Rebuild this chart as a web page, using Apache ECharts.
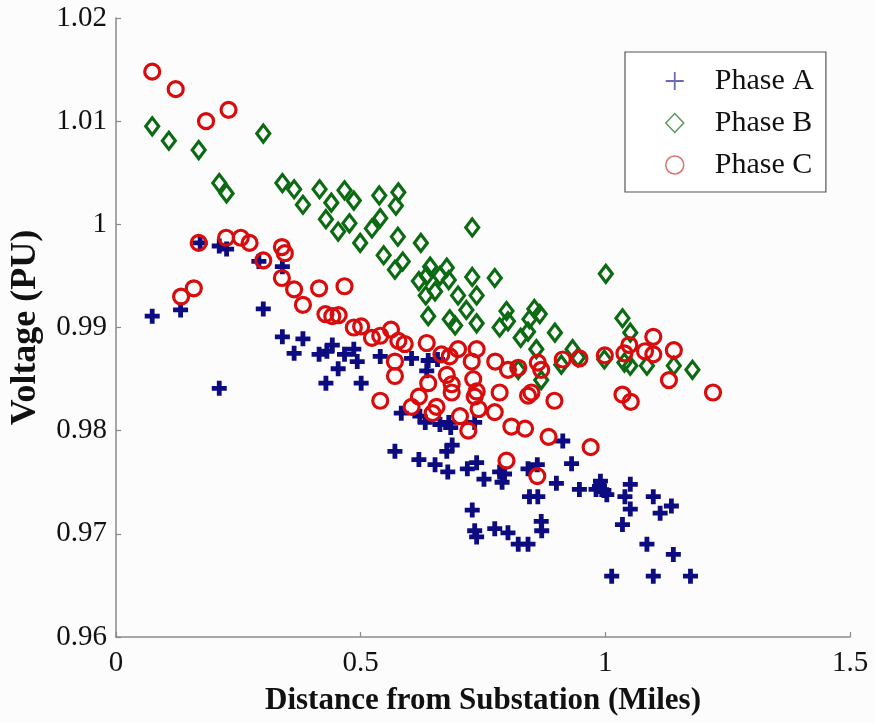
<!DOCTYPE html>
<html>
<head>
<meta charset="utf-8">
<script src="https://cdn.jsdelivr.net/npm/echarts@6/dist/echarts.min.js"></script>
<style>
  html, body { margin: 0; padding: 0; background: #fcfcfc; }
  #chart { width: 874px; height: 723px; }
</style>
</head>
<body>
<div id="chart"></div>
<script>
// Feeder node voltages by phase versus distance from substation
const phaseA = [
  [0.074, 0.9911], [0.132, 0.9917], [0.172, 0.9982], [0.211, 0.9979], [0.226, 0.9976],
  [0.292, 0.9964], [0.340, 0.9959], [0.301, 0.9918], [0.211, 0.9841], [0.340, 0.9891],
  [0.382, 0.9889], [0.364, 0.9875], [0.415, 0.9874], [0.431, 0.9877], [0.442, 0.9883],
  [0.467, 0.9874], [0.486, 0.9879], [0.493, 0.9867], [0.454, 0.9860], [0.429, 0.9846],
  [0.501, 0.9846], [0.540, 0.9872], [0.604, 0.9870], [0.638, 0.9868], [0.635, 0.9858],
  [0.657, 0.9869], [0.583, 0.9817], [0.621, 0.9814], [0.632, 0.9808], [0.662, 0.9806],
  [0.680, 0.9808], [0.684, 0.9803], [0.733, 0.9808], [0.570, 0.9780], [0.619, 0.9772],
  [0.652, 0.9767], [0.678, 0.9760], [0.676, 0.9780], [0.687, 0.9786], [0.718, 0.9763],
  [0.737, 0.9769], [0.752, 0.9753], [0.784, 0.9760], [0.794, 0.9758], [0.789, 0.9750],
  [0.842, 0.9763], [0.861, 0.9767], [0.845, 0.9736], [0.862, 0.9736], [0.913, 0.9790],
  [0.931, 0.9768], [0.900, 0.9749], [0.947, 0.9743], [0.981, 0.9743], [0.988, 0.9746],
  [0.997, 0.9742], [1.003, 0.9738], [0.990, 0.9751], [0.728, 0.9723], [0.733, 0.9703],
  [0.737, 0.9697], [0.774, 0.9705], [0.801, 0.9701], [0.822, 0.9690], [0.842, 0.9690],
  [0.869, 0.9712], [0.870, 0.9703], [1.051, 0.9748], [1.040, 0.9736], [1.051, 0.9724],
  [1.098, 0.9736], [1.112, 0.9720], [1.135, 0.9727], [1.035, 0.9709], [1.085, 0.9690],
  [1.139, 0.9680], [1.013, 0.9659], [1.098, 0.9659], [1.174, 0.9659]
];

const phaseB = [
  [0.074, 1.0095], [0.108, 1.0081], [0.169, 1.0072], [0.301, 1.0088], [0.211, 1.0040],
  [0.226, 1.0030], [0.340, 1.0040], [0.364, 1.0034], [0.382, 1.0019], [0.416, 1.0034],
  [0.440, 1.0021], [0.467, 1.0033], [0.486, 1.0023], [0.429, 1.0005], [0.454, 0.9993],
  [0.477, 1.0001], [0.499, 0.9982], [0.523, 0.9996], [0.538, 1.0028], [0.577, 1.0031],
  [0.572, 1.0018], [0.540, 1.0006], [0.576, 0.9988], [0.623, 0.9982], [0.547, 0.9970],
  [0.586, 0.9964], [0.570, 0.9956], [0.728, 0.9997], [0.642, 0.9959], [0.676, 0.9958],
  [0.619, 0.9945], [0.635, 0.9950], [0.662, 0.9950], [0.680, 0.9946], [0.652, 0.9935],
  [0.633, 0.9931], [0.699, 0.9931], [0.728, 0.9949], [0.737, 0.9931], [0.774, 0.9948],
  [0.716, 0.9917], [0.638, 0.9911], [0.682, 0.9908], [0.693, 0.9902], [0.737, 0.9904],
  [0.798, 0.9916], [0.801, 0.9906], [0.784, 0.9900], [0.855, 0.9918], [0.866, 0.9913],
  [0.845, 0.9908], [0.827, 0.9890], [0.842, 0.9896], [0.897, 0.9895], [0.859, 0.9879],
  [0.933, 0.9879], [0.944, 0.9871], [1.001, 0.9952], [1.035, 0.9909], [1.051, 0.9895],
  [0.998, 0.9869], [1.039, 0.9866], [1.051, 0.9863], [1.085, 0.9863], [1.140, 0.9863],
  [1.178, 0.9859], [0.869, 0.9849], [0.910, 0.9864], [0.822, 0.9859]
];

const phaseC = [
  [0.074, 1.0148], [0.122, 1.0131], [0.184, 1.0100], [0.230, 1.0111], [0.169, 0.9982],
  [0.225, 0.9987], [0.255, 0.9987], [0.273, 0.9982], [0.339, 0.9978], [0.345, 0.9972],
  [0.301, 0.9965], [0.339, 0.9948], [0.364, 0.9937], [0.382, 0.9922], [0.415, 0.9938],
  [0.467, 0.9940], [0.133, 0.9930], [0.159, 0.9938], [0.428, 0.9913], [0.442, 0.9911],
  [0.455, 0.9912], [0.486, 0.9900], [0.501, 0.9901], [0.523, 0.9890], [0.540, 0.9892],
  [0.562, 0.9898], [0.577, 0.9887], [0.590, 0.9884], [0.635, 0.9885], [0.570, 0.9867],
  [0.570, 0.9853], [0.665, 0.9874], [0.682, 0.9872], [0.699, 0.9879], [0.737, 0.9879],
  [0.727, 0.9867], [0.775, 0.9867], [0.801, 0.9859], [0.822, 0.9861], [0.862, 0.9866],
  [0.869, 0.9859], [0.913, 0.9869], [0.947, 0.9870], [0.999, 0.9873], [1.039, 0.9875],
  [1.049, 0.9883], [1.098, 0.9891], [1.081, 0.9877], [1.098, 0.9874], [1.140, 0.9878],
  [1.130, 0.9849], [1.035, 0.9835], [1.052, 0.9828], [1.220, 0.9837], [0.970, 0.9784],
  [0.540, 0.9829], [0.676, 0.9854], [0.638, 0.9846], [0.686, 0.9845], [0.686, 0.9837],
  [0.730, 0.9850], [0.737, 0.9838], [0.733, 0.9833], [0.784, 0.9837], [0.842, 0.9834],
  [0.849, 0.9837], [0.896, 0.9829], [0.619, 0.9833], [0.604, 0.9823], [0.655, 0.9823],
  [0.647, 0.9817], [0.741, 0.9821], [0.774, 0.9818], [0.703, 0.9814], [0.720, 0.9800],
  [0.808, 0.9804], [0.836, 0.9802], [0.884, 0.9794], [0.798, 0.9771], [0.861, 0.9756]
];

const xTicks = { min: 0, max: 1.5, step: 0.5 };
const yTicks = { min: 0.96, max: 1.02, step: 0.01 };

const FONT = '"Liberation Serif", "Times New Roman", serif';
const BLUE = '#0c0c80';
const GREEN = '#0b6a12';
const RED = '#d80c0c';
const PLUS = 'path://M3.4,0H6.6V3.4H10V6.6H6.6V10H3.4V6.6H0V3.4H3.4Z';
const PLUS_THIN = 'path://M4.5,0H5.5V4.5H10V5.5H5.5V10H4.5V5.5H0V4.5H4.5Z';

const chart = echarts.init(document.getElementById('chart'), null, { renderer: 'canvas' });

const axisCommon = {
  axisLine: { show: true, lineStyle: { color: '#8a8a8a', width: 1.5 } },
  axisTick: { show: true, inside: true, length: 5, lineStyle: { color: '#8a8a8a', width: 1.2 } },
  splitLine: { show: false },
  axisLabel: { color: '#111', fontFamily: FONT, fontSize: 29 },
  nameTextStyle: { color: '#111', fontFamily: FONT, fontSize: 31, fontWeight: 'bold' }
};

chart.setOption({
  backgroundColor: '#fcfcfc',
  animation: false,
  grid: { left: 113, right: 24, top: 18, bottom: 86, containLabel: false },
  xAxis: Object.assign({}, axisCommon, {
    type: 'value',
    min: xTicks.min, max: xTicks.max, interval: xTicks.step,
    name: 'Distance from Substation (Miles)',
    nameLocation: 'middle', nameGap: 48,
    axisLabel: Object.assign({}, axisCommon.axisLabel, {
      margin: 12,
      formatter: v => String(+v.toFixed(2))
    })
  }),
  yAxis: Object.assign({}, axisCommon, {
    type: 'value',
    min: yTicks.min, max: yTicks.max, interval: yTicks.step,
    name: 'Voltage (PU)',
    nameLocation: 'middle', nameGap: 72,
    nameTextStyle: Object.assign({}, axisCommon.nameTextStyle, { fontSize: 36 }),
    axisLabel: Object.assign({}, axisCommon.axisLabel, {
      margin: 9,
      formatter: v => String(+v.toFixed(2))
    })
  }),
  legend: {
    orient: 'vertical',
    left: 625, top: 52,
    width: 160,
    padding: [14, 12, 12, 40],
    itemGap: 12,
    itemWidth: 18, itemHeight: 19,
    backgroundColor: '#ffffff',
    borderColor: '#555',
    borderWidth: 1.2,
    borderRadius: 0,
    textStyle: { fontFamily: FONT, fontSize: 30, color: '#111', padding: [0, 0, 0, 26] },
    data: [
      { name: 'Phase A', icon: PLUS_THIN, itemStyle: { color: '#6a6ab8', borderWidth: 0 } },
      { name: 'Phase B', icon: 'diamond', itemStyle: { color: 'rgba(0,0,0,0)', borderColor: '#5a9a5e', borderWidth: 1.5 } },
      { name: 'Phase C', icon: 'circle', itemStyle: { color: 'rgba(0,0,0,0)', borderColor: '#e07070', borderWidth: 1.5 } }
    ]
  },
  series: [
    {
      name: 'Phase A', type: 'scatter', data: phaseA,
      symbol: PLUS, symbolSize: 15,
      itemStyle: { color: BLUE, opacity: 1 }
    },
    {
      name: 'Phase B', type: 'scatter', data: phaseB,
      symbol: 'diamond', symbolSize: [13, 17],
      itemStyle: { color: 'rgba(0,0,0,0)', borderColor: GREEN, borderWidth: 3.2, opacity: 1 }
    },
    {
      name: 'Phase C', type: 'scatter', data: phaseC,
      symbol: 'circle', symbolSize: 15,
      itemStyle: { color: 'rgba(0,0,0,0)', borderColor: RED, borderWidth: 3.2, opacity: 1 }
    }
  ]
});
</script>
</body>
</html>
